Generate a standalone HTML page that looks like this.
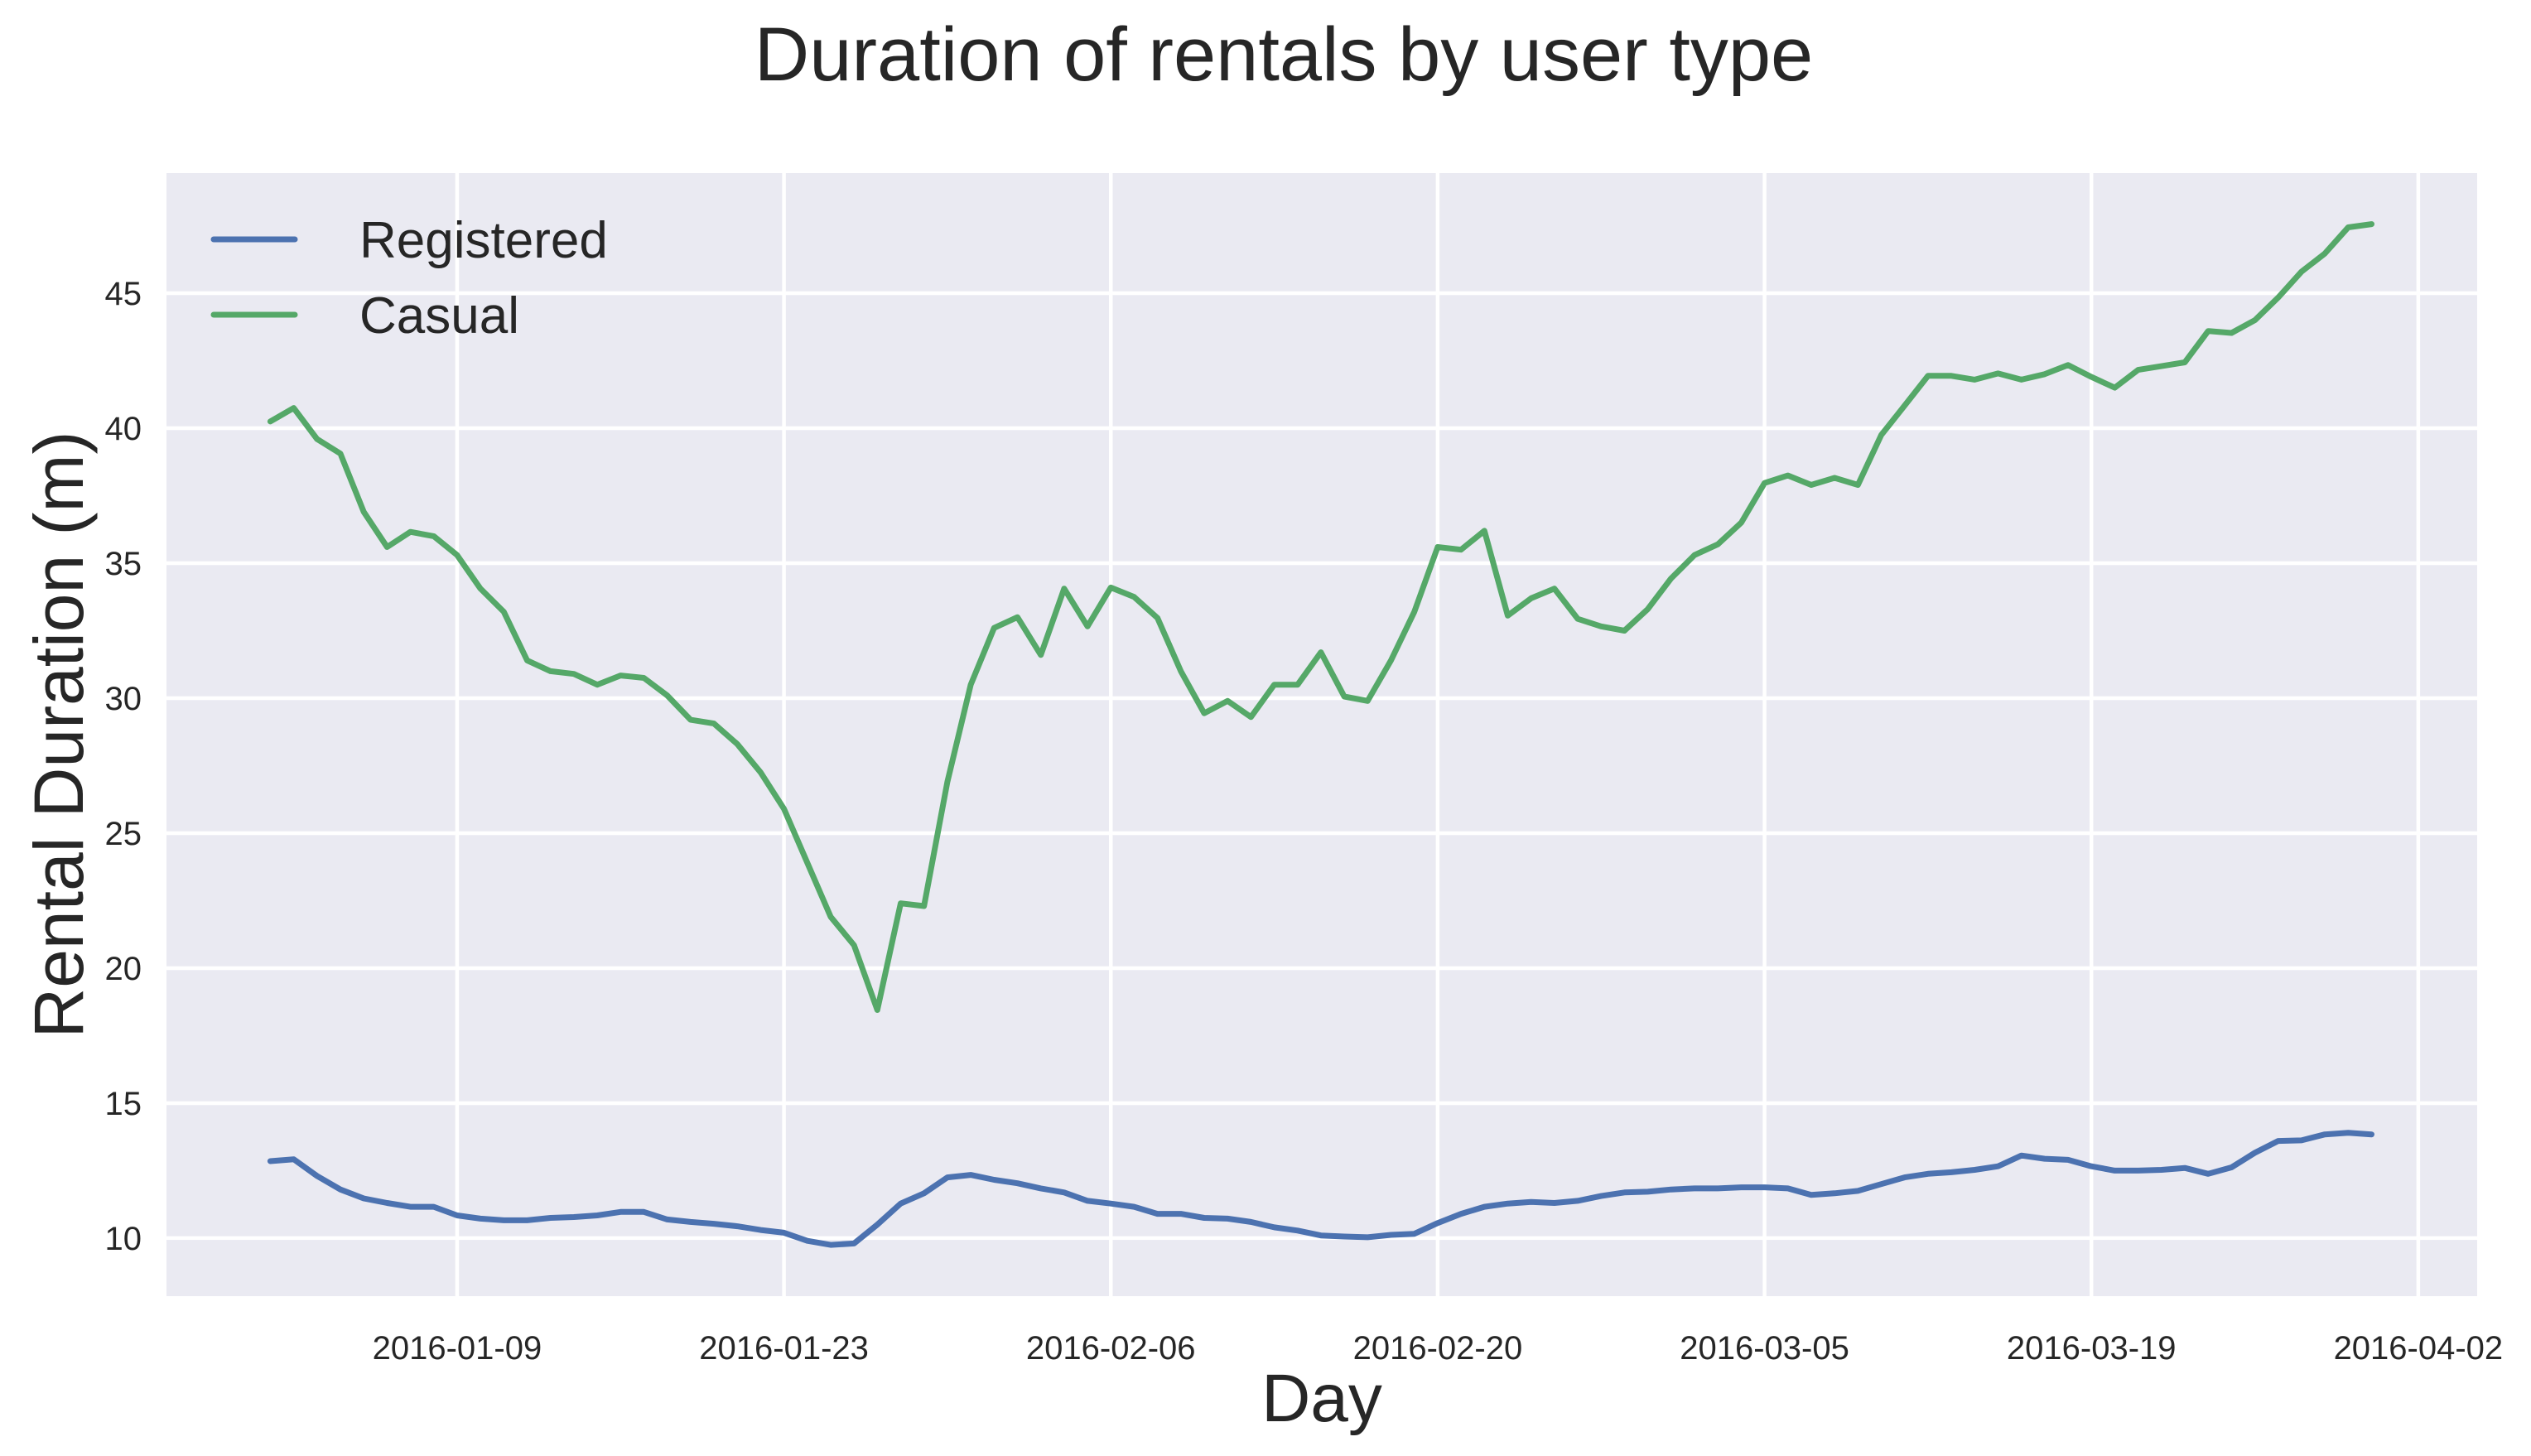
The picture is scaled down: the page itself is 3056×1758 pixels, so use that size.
<!DOCTYPE html>
<html><head><meta charset="utf-8"><style>
html,body{margin:0;padding:0;background:#fff;}
svg{display:block;font-family:"Liberation Sans",Arial,sans-serif;}
</style></head><body>
<svg id="chart" width="3056" height="1758" viewBox="0 0 3056 1758" xmlns="http://www.w3.org/2000/svg">
<rect x="0" y="0" width="3056" height="1758" fill="#ffffff"/>
<text x="1550" y="97" text-anchor="middle" font-size="92" fill="#262626">Duration of rentals by user type</text>
<rect x="201" y="209" width="2790" height="1356" fill="#EAEAF2"/>
<g id="grid"></g>
<g id="xticks"></g>
<g id="yticks"></g>
<g id="lines"></g>
<text x="1596" y="1716" text-anchor="middle" font-size="82" fill="#262626">Day</text>
<text transform="translate(100,887) rotate(-90)" text-anchor="middle" font-size="84" fill="#262626">Rental Duration (m)</text>
<g>
<line x1="258" y1="289" x2="356" y2="289" stroke="#4C72B0" stroke-width="7" stroke-linecap="round"/>
<text x="434" y="311" font-size="62" fill="#262626">Registered</text>
<line x1="258" y1="380" x2="356" y2="380" stroke="#55A868" stroke-width="7" stroke-linecap="round"/>
<text x="434" y="402" font-size="62" fill="#262626">Casual</text>
</g>
</svg>
<script>
const xTickLabels = ["2016-01-09","2016-01-23","2016-02-06","2016-02-20","2016-03-05","2016-03-19","2016-04-02"];
const xTickDays = [8,22,36,50,64,78,92];
const yTicks = [10,15,20,25,30,35,40,45];
const registered = [12.85,12.92,12.3,11.8,11.47,11.3,11.16,11.16,10.84,10.72,10.66,10.66,10.75,10.78,10.84,10.97,10.97,10.69,10.6,10.53,10.44,10.3,10.2,9.9,9.75,9.8,10.5,11.28,11.66,12.25,12.34,12.16,12.03,11.84,11.69,11.38,11.28,11.16,10.9,10.9,10.75,10.72,10.6,10.4,10.28,10.1,10.06,10.03,10.12,10.16,10.56,10.9,11.16,11.28,11.34,11.3,11.38,11.56,11.69,11.72,11.8,11.84,11.84,11.88,11.88,11.84,11.6,11.66,11.75,12.0,12.25,12.38,12.44,12.53,12.66,13.06,12.94,12.9,12.66,12.5,12.5,12.53,12.6,12.38,12.62,13.16,13.6,13.62,13.84,13.9,13.84];
const casual = [40.25,40.75,39.6,39.06,36.9,35.6,36.16,36.0,35.3,34.06,33.2,31.4,31.0,30.9,30.5,30.84,30.75,30.1,29.2,29.06,28.3,27.25,25.9,23.9,21.9,20.85,18.45,22.4,22.3,26.9,30.5,32.6,33.0,31.6,34.06,32.66,34.1,33.75,32.97,31.0,29.44,29.9,29.3,30.5,30.5,31.7,30.06,29.9,31.4,33.2,35.6,35.5,36.2,33.06,33.7,34.06,32.94,32.66,32.5,33.3,34.44,35.3,35.7,36.5,37.97,38.25,37.9,38.16,37.9,39.75,40.84,41.94,41.94,41.8,42.03,41.8,42.0,42.34,41.9,41.5,42.16,42.3,42.44,43.6,43.53,44.0,44.84,45.8,46.47,47.44,47.56];

const NS = "http://www.w3.org/2000/svg";
const PL = 201, PR = 2991, PT = 209, PB = 1565;
const yMin = 7.85, yMax = 49.45;
const xDay0 = 326.4, xPerDay = 28.19;
function xs(d){ return xDay0 + d * xPerDay; }
function ys(v){ return PB - (v - yMin) / (yMax - yMin) * (PB - PT); }
function mk(tag, attrs, parent){
  const el = document.createElementNS(NS, tag);
  for (const k in attrs) el.setAttribute(k, attrs[k]);
  parent.appendChild(el);
  return el;
}
const grid = document.getElementById('grid');
const xt = document.getElementById('xticks');
const yt = document.getElementById('yticks');
const lines = document.getElementById('lines');

xTickDays.forEach((d, i) => {
  const x = xs(d);
  const gl = mk('line', {x1:x, y1:PT, x2:x, y2:PB, stroke:'#ffffff', 'stroke-width':4.5}, grid);
  
  
  const t = mk('text', {x:x, y:1641, 'text-anchor':'middle', 'font-size':40, fill:'#262626'}, xt);
  t.textContent = xTickLabels[i];
  
  
});
yTicks.forEach(v => {
  const y = ys(v);
  const gl = mk('line', {x1:PL, y1:y, x2:PR, y2:y, stroke:'#ffffff', 'stroke-width':4.5}, grid);
  
  
  const t = mk('text', {x:171, y:y + 14, 'text-anchor':'end', 'font-size':40, fill:'#262626'}, yt);
  t.textContent = v;
  
  
});
function pts(arr){ return arr.map((v, i) => xs(i).toFixed(1) + ',' + ys(v).toFixed(1)).join(' '); }
const lr = mk('polyline', {points:pts(registered), fill:'none', stroke:'#4C72B0', 'stroke-width':7, 'stroke-linejoin':'round', 'stroke-linecap':'round'}, lines);


const lc = mk('polyline', {points:pts(casual), fill:'none', stroke:'#55A868', 'stroke-width':7, 'stroke-linejoin':'round', 'stroke-linecap':'round'}, lines);


</script>
</body></html>
